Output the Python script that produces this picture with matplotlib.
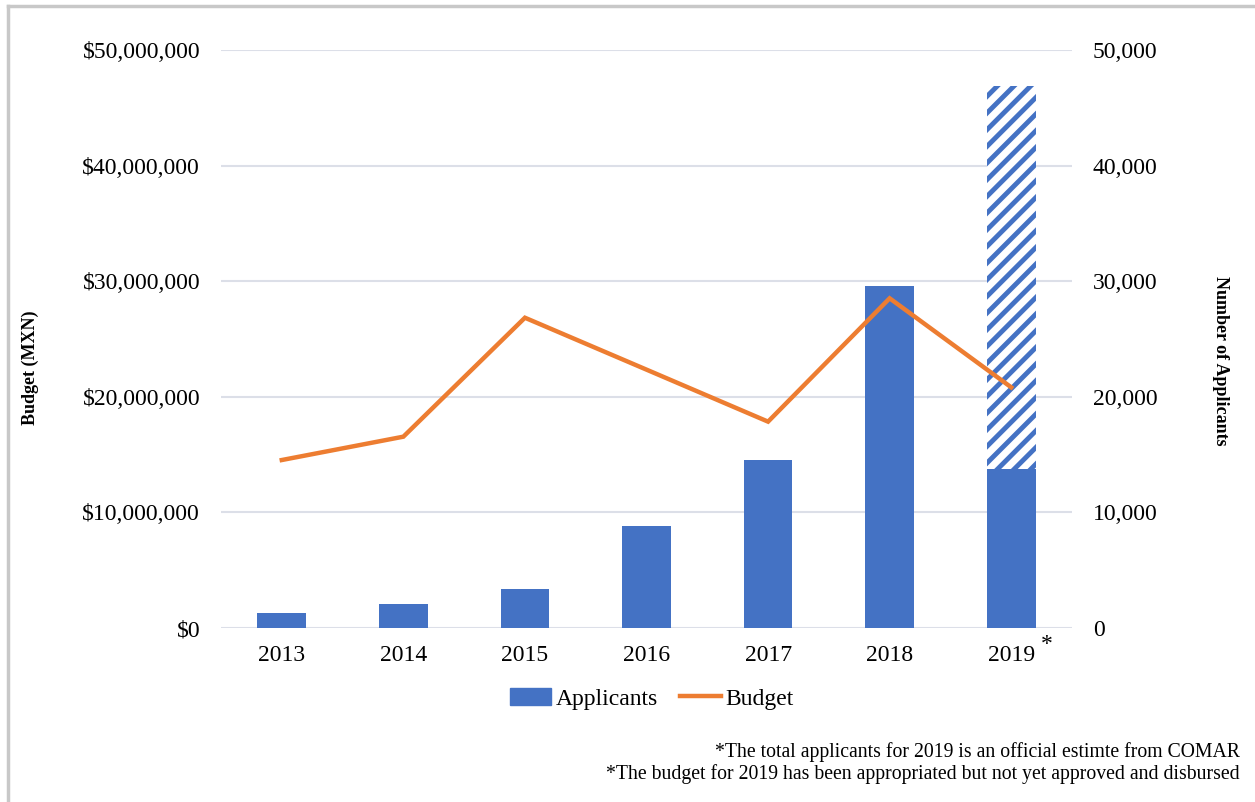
import matplotlib.pyplot as plt
from matplotlib.lines import Line2D
from matplotlib.ticker import FuncFormatter

plt.rcParams['font.family'] = ['Liberation Serif', 'DejaVu Serif']
plt.rcParams['hatch.linewidth'] = 3.5

years = ['2013', '2014', '2015', '2016', '2017', '2018', '2019']
applicants = [1300, 2100, 3400, 8800, 14500, 29600, 13750]
applicants_2019_estimate = 46900
budget = [14530000, 16550000, 26840000, 22350000, 17850000, 28520000, 20820000]

blue = '#4472C4'
orange = '#ED7D31'
grid_col = '#DCDFE8'

fig = plt.figure(figsize=(12.55, 8.02), dpi=100)
ax = fig.add_axes([221 / 1255, 1 - 628 / 802, (1072 - 221) / 1255, (628 - 50) / 802])
ax2 = ax.twinx()

# bars on right axis, drawn behind the budget line
ax.set_zorder(2)
ax.patch.set_visible(False)
ax2.set_zorder(1)

x = list(range(len(years)))
ax2.bar(x, applicants, width=0.4, color=blue, zorder=3)
ax2.bar(x[-1], applicants_2019_estimate - applicants[-1], bottom=applicants[-1],
        width=0.4, facecolor='white', edgecolor=blue, linewidth=0, hatch='//', zorder=2)

ax.plot(x, budget, color=orange, linewidth=3.2, solid_joinstyle='miter', zorder=4)

ax.set_xlim(-0.5, 6.5)
ax.set_ylim(0, 50000000)
ax2.set_ylim(0, 50000)
ax.set_yticks(range(0, 50000001, 10000000))
ax2.set_yticks(range(0, 50001, 10000))
ax.yaxis.set_major_formatter(FuncFormatter(lambda v, p: '${:,.0f}'.format(v)))
ax2.yaxis.set_major_formatter(FuncFormatter(lambda v, p: '{:,.0f}'.format(v)))
ax.set_xticks(x)
ax.set_xticklabels(years)

for a in (ax, ax2):
    for s in a.spines.values():
        s.set_visible(False)
    a.tick_params(length=0, labelsize=17)
ax.tick_params(axis='y', pad=15)
ax2.tick_params(axis='y', pad=15)
ax.tick_params(axis='x', pad=12)

ax2.yaxis.grid(True, color=grid_col, linewidth=1.5, zorder=0)
ax2.set_axisbelow(True)

fig.text(30 / 1255, 1 - 368 / 802, 'Budget (MXN)', rotation=90, fontsize=13,
         fontweight='bold', ha='center', va='center')
fig.text(1221 / 1255, 1 - 361 / 802, 'Number of Applicants', rotation=270, fontsize=13,
         fontweight='bold', ha='center', va='center')
fig.text(1047 / 1255, 1 - 645 / 802, '*', fontsize=17, ha='center', va='center')

handles = [plt.Rectangle((0, 0), 1, 1, color=blue),
           Line2D([0], [0], color=orange, linewidth=3.2)]
fig.legend(handles, ['Applicants', 'Budget'], loc='center', bbox_to_anchor=(652 / 1255, 1 - 699 / 802),
           ncol=2, frameon=False, fontsize=17, handlelength=1.75, handletextpad=0.2, columnspacing=0.9)

fig.text(1240 / 1255, 1 - 752 / 802, '*The total applicants for 2019 is an official estimte from COMAR',
         fontsize=14.2, ha='right', va='center')
fig.text(1240 / 1255, 1 - 774 / 802,
         '*The budget for 2019 has been appropriated but not yet approved and disbursed',
         fontsize=14.2, ha='right', va='center')

# page frame
fig.add_artist(Line2D([8 / 1255, 8 / 1255], [0, 1 - 6 / 802], color='#C8C8C8', linewidth=2.5))
fig.add_artist(Line2D([8 / 1255, 1], [1 - 6 / 802, 1 - 6 / 802], color='#C8C8C8', linewidth=2.5))

fig.savefig('out.png', dpi=100)
